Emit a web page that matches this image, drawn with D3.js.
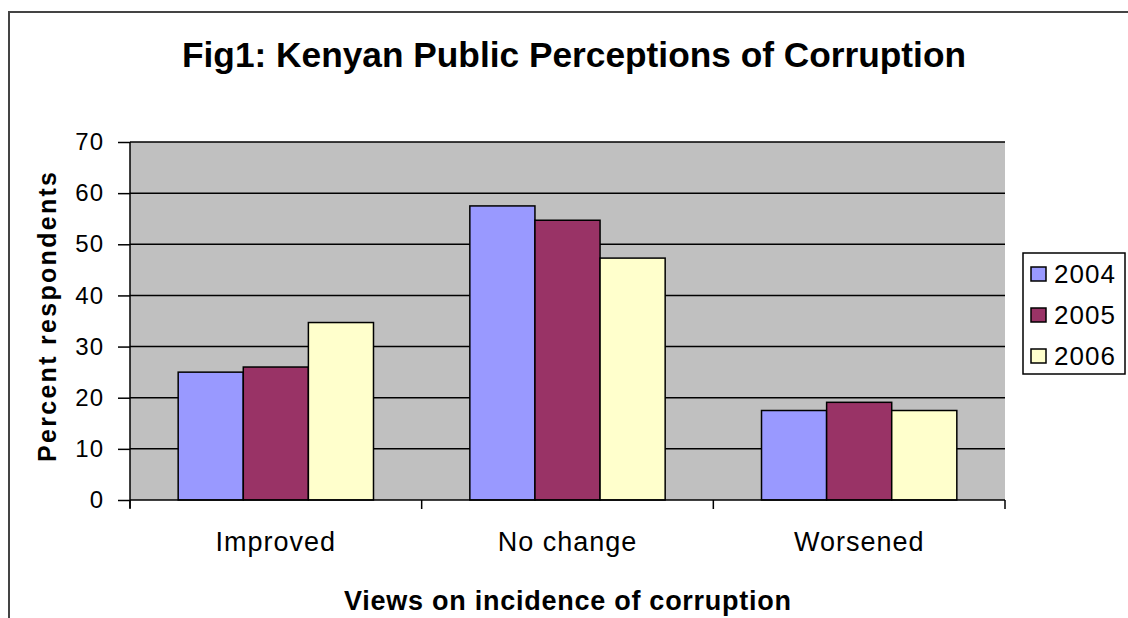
<!DOCTYPE html>
<html><head><meta charset="utf-8">
<script src="https://cdn.jsdelivr.net/npm/d3@7"></script>
<style>
html,body{margin:0;padding:0;background:#fff;}
text{font-family:Arial,"Liberation Sans",Helvetica,sans-serif;}
</style></head>
<body>
<svg id="chart" width="1128" height="618"></svg>
<script>
const categories = ["Improved", "No change", "Worsened"];
const seriesNames = ["2004", "2005", "2006"];
const values2004 = [25, 57.5, 17.5];
const values2005 = [26, 54.7, 19.1];
const values2006 = [34.7, 47.3, 17.5];
const yTicks = [0, 10, 20, 30, 40, 50, 60, 70];
const colors = ["#9999ff", "#993366", "#ffffcc"];
const titleText = "Fig1: Kenyan Public Perceptions of Corruption";
const xTitle = "Views on incidence of corruption";
const yTitle = "Percent respondents";

const series = [values2004, values2005, values2006];
const svg = d3.select("#chart");

// outer chart border
svg.append("rect").attr("x", 9).attr("y", 12).attr("width", 1130).attr("height", 620)
  .attr("fill", "#fff").attr("stroke", "#444").attr("stroke-width", 2);

const plot = {left: 130, right: 1005, top: 142, bottom: 500};
const x0 = d3.scaleBand().domain(categories).range([plot.left, plot.right]).padding(0);
const x1 = d3.scaleBand().domain(seriesNames).range([0, x0.bandwidth()]).paddingInner(0).paddingOuter(0.74);
const y = d3.scaleLinear().domain([0, 70]).range([plot.bottom, plot.top]);

// plot background
svg.append("rect").attr("x", plot.left).attr("y", plot.top)
  .attr("width", plot.right - plot.left).attr("height", plot.bottom - plot.top)
  .attr("fill", "#c0c0c0");

// gridlines
svg.append("g").selectAll("line").data(yTicks.filter(d => d > 0)).join("line")
  .attr("x1", plot.left).attr("x2", plot.right)
  .attr("y1", d => y(d)).attr("y2", d => y(d))
  .attr("stroke", "#000").attr("stroke-width", 1.5);

// bars
const groups = svg.append("g").selectAll("g").data(categories).join("g")
  .attr("transform", c => `translate(${x0(c)},0)`);
groups.selectAll("rect").data((c, i) => seriesNames.map((s, j) => ({s, v: series[j][i], j})))
  .join("rect")
  .attr("x", d => x1(d.s)).attr("width", x1.bandwidth())
  .attr("y", d => y(d.v)).attr("height", d => y(0) - y(d.v))
  .attr("fill", d => colors[d.j]).attr("stroke", "#000").attr("stroke-width", 1.5);

// y axis
const yAxis = svg.append("g").attr("transform", `translate(${plot.left},0)`)
  .call(d3.axisLeft(y).tickValues(yTicks).tickSize(12).tickPadding(14));
yAxis.select(".domain").attr("stroke", "#000").attr("stroke-width", 1.5).attr("d", `M0,${plot.top}V${plot.bottom + 8}`);
yAxis.selectAll(".tick line").attr("stroke", "#000").attr("stroke-width", 1.5);
yAxis.selectAll(".tick text").attr("font-size", 24).attr("fill", "#000")
  .attr("font-family", "Arial, 'Liberation Sans', sans-serif").style("letter-spacing", "1px");

// x axis
const xAxis = svg.append("g").attr("transform", `translate(0,${plot.bottom})`)
  .call(d3.axisBottom(x0).tickSize(0).tickPadding(32));
xAxis.select(".domain").attr("stroke", "#000").attr("stroke-width", 1.5).attr("d", `M${plot.left},0H${plot.right}`);
xAxis.selectAll(".tick text").attr("font-size", 27).attr("fill", "#000")
  .attr("font-family", "Arial, 'Liberation Sans', sans-serif").style("letter-spacing", "1px");
// category separators
const seps = categories.map(c => x0(c)).concat([plot.right]);
xAxis.append("g").selectAll("line").data(seps).join("line")
  .attr("x1", d => d).attr("x2", d => d).attr("y1", 0).attr("y2", 9)
  .attr("stroke", "#000").attr("stroke-width", 1.5);

// title
svg.append("text").attr("x", 574).attr("y", 67).attr("text-anchor", "middle")
  .attr("font-size", 35).attr("font-weight", "bold").attr("fill", "#000")
  .attr("textLength", 784).attr("lengthAdjust", "spacingAndGlyphs").text(titleText);

// axis titles
svg.append("text").attr("x", (plot.left + plot.right) / 2).attr("y", 610).attr("text-anchor", "middle")
  .attr("font-size", 27).attr("font-weight", "bold").attr("fill", "#000")
  .attr("textLength", 447).text(xTitle);
svg.append("text").attr("transform", "translate(56,317) rotate(-90)").attr("text-anchor", "middle")
  .attr("font-size", 25).attr("font-weight", "bold").attr("fill", "#000")
  .attr("textLength", 290).text(yTitle);

// legend
const legend = svg.append("g");
legend.append("rect").attr("x", 1023).attr("y", 253).attr("width", 102).attr("height", 121)
  .attr("fill", "#fff").attr("stroke", "#000").attr("stroke-width", 1.5);
const li = legend.selectAll("g").data(seriesNames).join("g")
  .attr("transform", (d, i) => `translate(1031,${274 + i * 41})`);
li.append("rect").attr("x", 0).attr("y", -7).attr("width", 15).attr("height", 14)
  .attr("fill", (d, i) => colors[i]).attr("stroke", "#000").attr("stroke-width", 1.5);
li.append("text").attr("x", 23).attr("y", 0).attr("dy", "0.36em")
  .attr("font-size", 26).attr("fill", "#000").style("letter-spacing", "1px").text(d => d);
</script>
</body></html>
